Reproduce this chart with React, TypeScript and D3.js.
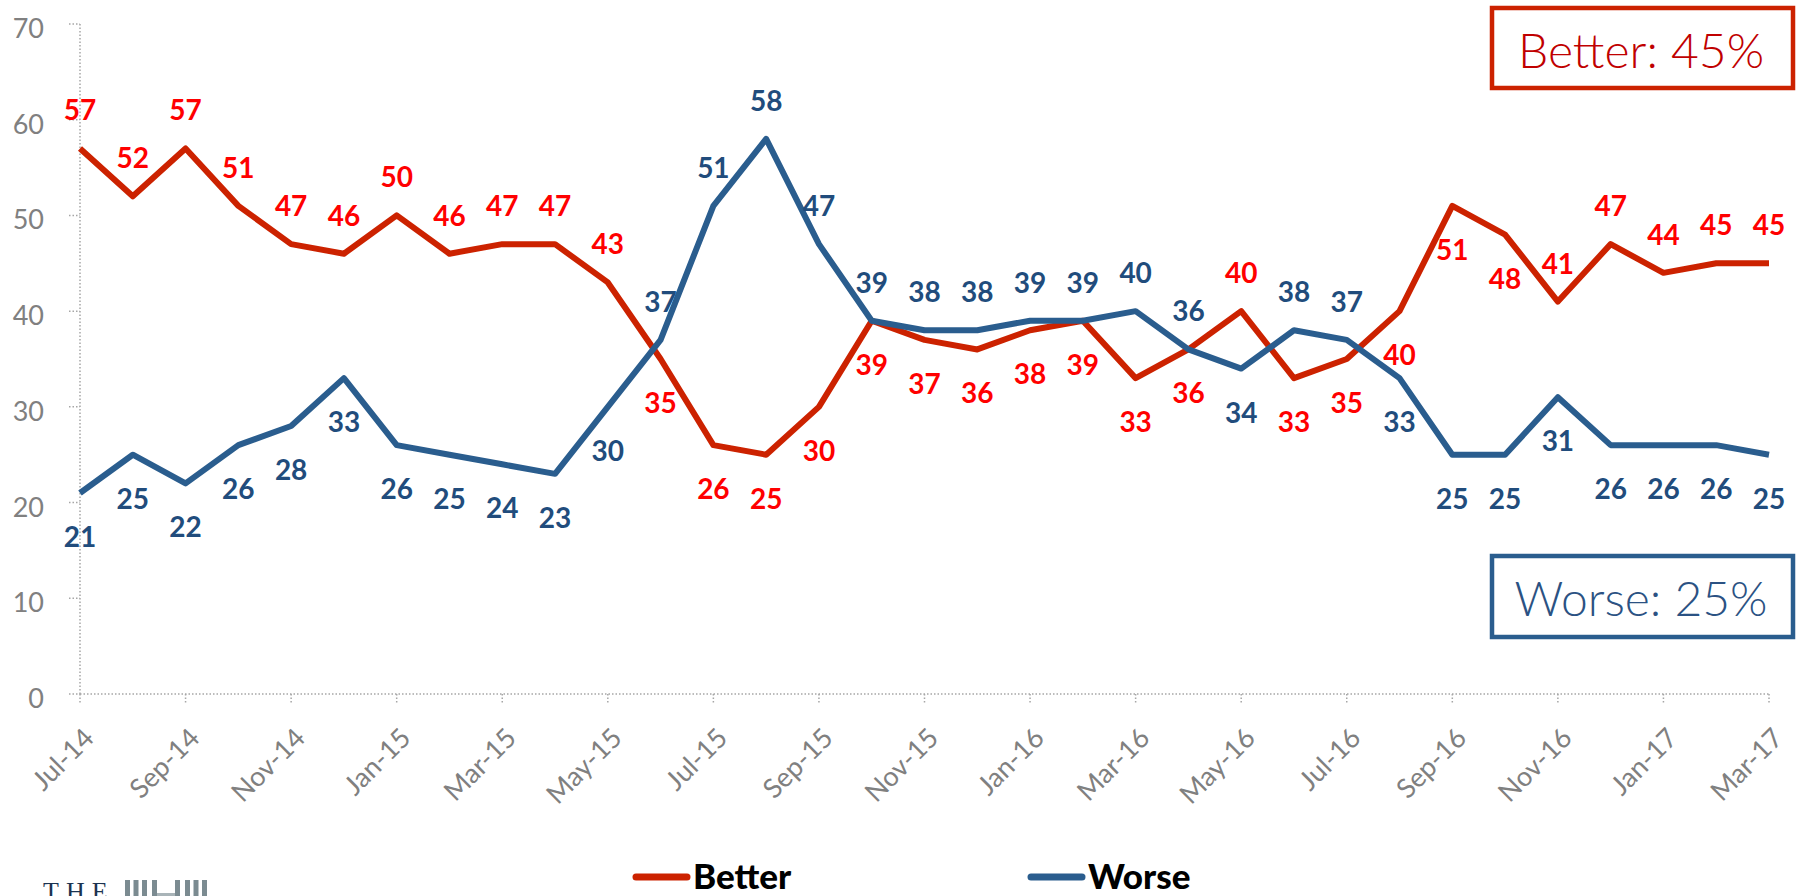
import React from "react";
import * as d3 from "d3";

const months = [
  "Jul-14","Aug-14","Sep-14","Oct-14","Nov-14","Dec-14","Jan-15","Feb-15","Mar-15","Apr-15","May-15","Jun-15",
  "Jul-15","Aug-15","Sep-15","Oct-15","Nov-15","Dec-15","Jan-16","Feb-16","Mar-16","Apr-16","May-16","Jun-16",
  "Jul-16","Aug-16","Sep-16","Oct-16","Nov-16","Dec-16","Jan-17","Feb-17","Mar-17",
];
const better = [57,52,57,51,47,46,50,46,47,47,43,35,26,25,30,39,37,36,38,39,33,36,40,33,35,40,51,48,41,47,44,45,45];
const worse = [21,25,22,26,28,33,26,25,24,23,30,37,51,58,47,39,38,38,39,39,40,36,34,38,37,33,25,25,31,26,26,26,25];
const yTicks = [0,10,20,30,40,50,60,70];
// label placement: indices whose value label sits above the point
const betterAbove = [0,1,2,3,4,5,6,7,8,9,10,22,28,29,30,31,32];
const worseAbove = [11,12,13,14,15,16,17,18,19,20,21,23,24];

const W = 1796, H = 896;
const RED_LINE = "#CC2200";
const BLUE_LINE = "#2A5D8E";
const RED_LBL = "#FF0000";
const BLUE_LBL = "#214C7C";
const GRAY = "#808080";
const AXIS = "#A6A6A6";

export default function App() {
  const x = d3.scalePoint<string>().domain(months).range([80, 1769]);
  const y = d3.scaleLinear().domain([0, 70]).range([694, 24]);
  const line = d3.line<number>().x((_, i) => x(months[i]) as number).y((d) => y(d));

  const labelFont = "Lato, 'Open Sans', sans-serif";

  const renderLabels = (vals: number[], above: number[], color: string, key: string) =>
    vals.map((v, i) => {
      const px = x(months[i]) as number;
      const py = y(v);
      const isAbove = above.includes(i);
      const by = isAbove ? py - 28 : py + 54;
      return (
        <text key={key + i} x={px} y={by} textAnchor="middle" fill={color}
          fontFamily={labelFont} fontWeight={700} fontSize={28}>{v}</text>
      );
    });

  const logoBars = [125, 133.5, 142, 152, 175, 185, 193.5, 202];

  return (
    <svg width={W} height={H} style={{ position: "absolute", left: 0, top: 0, background: "#fff" }}
      xmlns="http://www.w3.org/2000/svg">
      {/* axes */}
      <line x1={80} x2={80} y1={y(70)} y2={y(0)} stroke={AXIS} strokeWidth={1.5} strokeDasharray="1.5,2" />
      <line x1={80} x2={1769} y1={y(0)} y2={y(0)} stroke={AXIS} strokeWidth={1.5} strokeDasharray="1.5,2" />
      {yTicks.map((t) => (
        <g key={"yt" + t}>
          <line x1={69} x2={80} y1={y(t)} y2={y(t)} stroke={AXIS} strokeWidth={1.5} strokeDasharray="1.5,2" />
          <text x={44} y={y(t) + 14} textAnchor="end" fill={GRAY} fontFamily={labelFont} fontSize={27}>{t}</text>
        </g>
      ))}
      {months.map((m, i) =>
        i % 2 === 0 ? (
          <g key={"xt" + m}>
            <line x1={x(m) as number} x2={x(m) as number} y1={y(0)} y2={y(0) + 10} stroke={AXIS} strokeWidth={1.5} strokeDasharray="1.5,2" />
            <text transform={`translate(${(x(m) as number) + 9},${733}) rotate(-45)`} textAnchor="end" dy="0.35em"
              fill={GRAY} fontFamily={labelFont} fontSize={27}>{m}</text>
          </g>
        ) : null
      )}

      {/* series */}
      <path d={line(better) || ""} fill="none" stroke={RED_LINE} strokeWidth={6} strokeLinejoin="round" />
      <path d={line(worse) || ""} fill="none" stroke={BLUE_LINE} strokeWidth={6} strokeLinejoin="round" />

      {renderLabels(better, betterAbove, RED_LBL, "b")}
      {renderLabels(worse, worseAbove, BLUE_LBL, "w")}

      {/* callouts */}
      <rect x={1492} y={8} width={301} height={80} fill="#fff" stroke={RED_LINE} strokeWidth={4.5} />
      <text x={1641} y={68} textAnchor="middle" fill="#C00000" fontFamily={labelFont} fontWeight={300} fontSize={48}>Better: 45%</text>
      <rect x={1492} y={556} width={301} height={81} fill="#fff" stroke={BLUE_LINE} strokeWidth={4.5} />
      <text x={1641} y={616} textAnchor="middle" fill="#2B5283" fontFamily={labelFont} fontWeight={300} fontSize={48}>Worse: 25%</text>

      {/* legend */}
      <line x1={636} x2={687} y1={877} y2={877} stroke={RED_LINE} strokeWidth={7} strokeLinecap="round" />
      <text x={693} y={889} fill="#000" fontFamily={labelFont} fontWeight={900} fontSize={35}>Better</text>
      <line x1={1031} x2={1082} y1={877} y2={877} stroke={BLUE_LINE} strokeWidth={7} strokeLinecap="round" />
      <text x={1088} y={889} fill="#000" fontFamily={labelFont} fontWeight={900} fontSize={35}>Worse</text>

      {/* logo */}
      <text x={43} y={900} fill="#1B3350" fontFamily="'Liberation Serif', serif" fontSize={26} letterSpacing={7}>THE</text>
      {logoBars.map((bx, i) => (
        <rect key={"lb" + i} x={bx} y={880} width={5} height={20} fill="#7B8B91" />
      ))}
      <rect x={157} y={893} width={18} height={3} fill="#A9B4B8" />
    </svg>
  );
}
